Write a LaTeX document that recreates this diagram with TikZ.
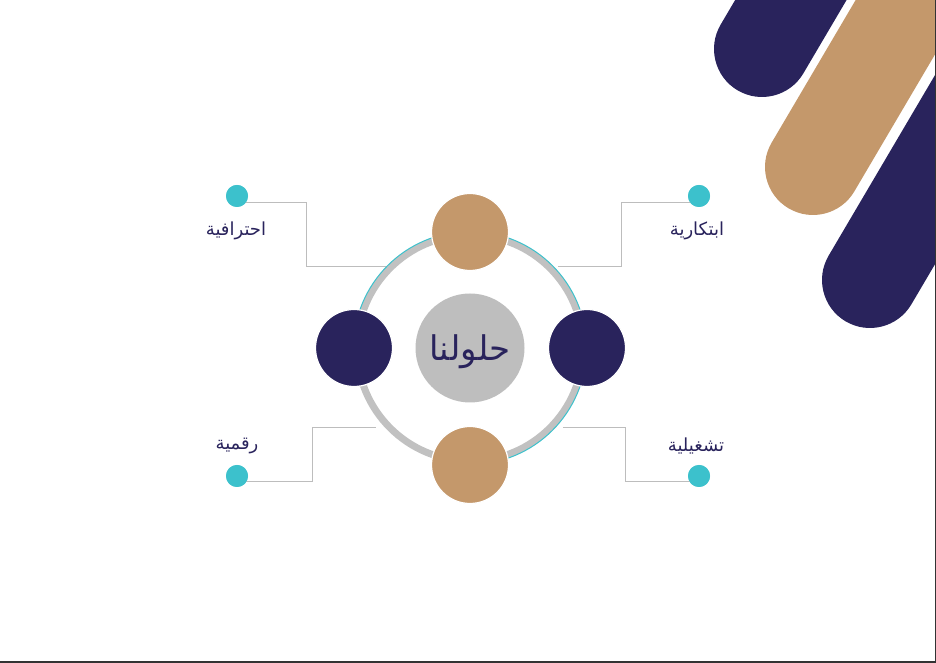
\documentclass[tikz,border=0pt]{standalone}
\usepackage{fontspec}
\TeXXeTstate=1
\newfontfamily\arabicfont[Script=Arabic]{DejaVu Sans}
\definecolor{navy}{HTML}{29235C}
\definecolor{tan}{HTML}{C4986B}
\definecolor{tealc}{HTML}{3CC1CC}
\definecolor{ringgray}{HTML}{C1C1C1}
\definecolor{centergray}{HTML}{BEBEBE}
\definecolor{conngray}{HTML}{BDBDBD}
\begin{document}
\begin{tikzpicture}[x=1pt,y=1pt,
  bar/.style={line width=96pt, line cap=round},
  conn/.style={draw=conngray, line width=0.9pt},
  ball/.style={circle, draw=white, line width=1.2pt, minimum size=77pt, inner sep=0pt},
  dot/.style={circle, fill=tealc, minimum size=22pt, inner sep=0pt},
  lbl/.style={text=navy, font=\arabicfont\fontsize{18}{22}\selectfont, inner sep=0pt}]
\useasboundingbox (0,0) rectangle (936,663);
% decorative bars
\begin{scope}
  \clip (0,0) rectangle (936,663);
  \coordinate (b1) at (762,614);
  \coordinate (b2) at (813,496);
  \coordinate (b3) at (870,383);
  \draw[bar, navy] (b1) -- ++(59.5:600);
  \draw[bar, tan] (b2) -- ++(59.5:600);
  \draw[bar, navy] (b3) -- ++(59.5:600);
\end{scope}
% centre
\coordinate (C) at (470,315);
% dots
\node[dot] (dTL) at (237,467) {};
\node[dot] (dTR) at (699,467) {};
\node[dot] (dBL) at (237,187) {};
\node[dot] (dBR) at (699,187) {};
% connector bends
\coordinate (tl1) at (306.5,461);
\coordinate (tl2) at (306.5,397);
\coordinate (tl3) at (387,397);
\coordinate (tr1) at (621,461);
\coordinate (tr2) at (621,397);
\coordinate (tr3) at (558,397);
\coordinate (bl1) at (312.5,181.3);
\coordinate (bl2) at (312.5,235.7);
\coordinate (bl3) at (376,235.7);
\coordinate (br1) at (625.5,181.3);
\coordinate (br2) at (625.5,235.7);
\coordinate (br3) at (563,235.7);
\draw[conn] (dTL |- tl1) -- (tl1) -- (tl2) -- (tl3);
\draw[conn] (dTR |- tr1) -- (tr1) -- (tr2) -- (tr3);
\draw[conn] (dBL |- bl1) -- (bl1) -- (bl2) -- (bl3);
\draw[conn] (dBR |- br1) -- (br1) -- (br2) -- (br3);
% redraw dots on top
\node[dot] at (dTL) {};
\node[dot] at (dTR) {};
\node[dot] at (dBL) {};
\node[dot] at (dBR) {};
% ring
\draw[ringgray, line width=7pt] (C) circle[radius=113];
\draw[tealc, line width=1pt] ([shift={(0:116.5)}]C) arc[start angle=0, end angle=180, radius=116.5];
\draw[tealc, line width=1pt] ([shift={(-90:116.5)}]C) arc[start angle=-90, end angle=0, radius=116.5];
% circles
\node[ball, fill=tan] (top) at (470,431) {};
\node[ball, fill=tan] (bottom) at (470,198) {};
\node[ball, fill=navy] (left) at (354,315) {};
\node[ball, fill=navy] (right) at (587,315) {};
\node[circle, fill=centergray, minimum size=109pt, inner sep=0pt] (mid) at (C) {};
\node[text=navy, font=\arabicfont\fontsize{34}{40}\selectfont, inner sep=0pt] (midt) at (470,311) {\beginR حلولنا\endR};
% labels
\node[lbl] (tTL) at (236,432) {\beginR احترافية\endR};
\node[lbl] (tTR) at (697,432) {\beginR ابتكارية\endR};
\node[lbl] (tBL) at (237,217) {\beginR رقمية\endR};
\node[lbl] (tBR) at (696,217) {\beginR تشغيلية\endR};
% frame edges
\draw[black!80, line width=1.5pt] (0,0.75) -- (935.25,0.75) -- (935.25,663);
\end{tikzpicture}
\end{document}
